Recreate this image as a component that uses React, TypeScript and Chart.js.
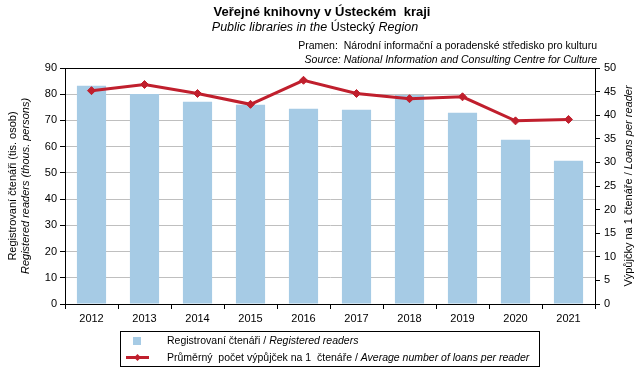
import React, { useEffect, useRef } from "react";
import { Chart, registerables } from "chart.js";

Chart.register(...registerables);

const years = ["2012", "2013", "2014", "2015", "2016", "2017", "2018", "2019", "2020", "2021"];
const readers = [83.2, 80.1, 77.1, 76.0, 74.5, 74.1, 79.7, 72.9, 62.6, 54.6];
const loans = [45.2, 46.5, 44.6, 42.3, 47.4, 44.6, 43.5, 43.9, 38.8, 39.1];
const leftTicks = { min: 0, max: 90, step: 10 };
const rightTicks = { min: 0, max: 50, step: 5 };

const FONT = "'Liberation Sans', Arial, sans-serif";
const BAR_COLOR = "#a6cbe5";
const LINE_COLOR = "#c01f2d";

function drawSegments(ctx: CanvasRenderingContext2D, segs: [string, string][], x: number, y: number, align: "left" | "center" | "right") {
  let total = 0;
  for (const [font, text] of segs) {
    ctx.font = font;
    total += ctx.measureText(text).width;
  }
  let sx = align === "left" ? x : align === "center" ? x - total / 2 : x - total;
  ctx.textAlign = "left";
  for (const [font, text] of segs) {
    ctx.font = font;
    ctx.fillText(text, sx, y);
    sx += ctx.measureText(text).width;
  }
}

const decor = {
  id: "decor",
  afterDraw(chart: any) {
    const ctx: CanvasRenderingContext2D = chart.ctx;
    const a = chart.chartArea;
    ctx.save();
    // plot border
    ctx.strokeStyle = "#000";
    ctx.lineWidth = 1;
    ctx.strokeRect(Math.round(a.left) + 0.5, Math.round(a.top) + 0.5, Math.round(a.right - a.left), Math.round(a.bottom - a.top));

    ctx.fillStyle = "#000";
    ctx.textBaseline = "middle";
    // titles
    ctx.textAlign = "center";
    ctx.font = `bold 13px ${FONT}`;
    ctx.fillText("Veřejné knihovny v Ústeckém  kraji", 322, 12);
    drawSegments(ctx, [[`italic 12.5px ${FONT}`, "Public libraries in the "], [`12.5px ${FONT}`, "Ústecký "], [`italic 12.5px ${FONT}`, "Region"]], 315, 28, "center");
    // source
    ctx.textAlign = "right";
    ctx.font = `10.5px ${FONT}`;
    ctx.fillText("Pramen:  Národní informační a poradenské středisko pro kulturu", 597, 46);
    ctx.font = `italic 10.5px ${FONT}`;
    ctx.fillText("Source: National Information and Consulting Centre for Culture", 597, 60);

    // left axis title
    const cy = (a.top + a.bottom) / 2;
    ctx.save();
    ctx.translate(13, cy);
    ctx.rotate(-Math.PI / 2);
    ctx.textAlign = "center";
    ctx.font = `11px ${FONT}`;
    ctx.fillText("Registrovaní čtenáři (tis. osob)", 0, 0);
    ctx.font = `italic 11px ${FONT}`;
    ctx.fillText("Registered readers (thous. persons)", 0, 13);
    ctx.restore();

    // right axis title
    ctx.save();
    ctx.translate(629, cy);
    ctx.rotate(-Math.PI / 2);
    drawSegments(ctx, [[`11px ${FONT}`, "Výpůjčky na 1 čtenáře / "], [`italic 11px ${FONT}`, "Loans per reader"]], 0, 0, "center");
    ctx.restore();

    // legend box
    ctx.strokeStyle = "#000";
    ctx.lineWidth = 1;
    ctx.strokeRect(120.5, 331.5, 419, 35);
    ctx.fillStyle = BAR_COLOR;
    ctx.fillRect(133, 337, 8, 8);
    ctx.strokeStyle = LINE_COLOR;
    ctx.lineWidth = 3;
    ctx.beginPath();
    ctx.moveTo(126, 357.5);
    ctx.lineTo(149, 357.5);
    ctx.stroke();
    ctx.fillStyle = LINE_COLOR;
    ctx.beginPath();
    ctx.moveTo(137.5, 354);
    ctx.lineTo(141, 357.5);
    ctx.lineTo(137.5, 361);
    ctx.lineTo(134, 357.5);
    ctx.closePath();
    ctx.fill();
    ctx.fillStyle = "#000";
    drawSegments(ctx, [[`10.5px ${FONT}`, "Registrovaní čtenáři / "], [`italic 10.5px ${FONT}`, "Registered readers"]], 167, 341, "left");
    drawSegments(ctx, [[`10.5px ${FONT}`, "Průměrný  počet výpůjček na 1  čtenáře / "], [`italic 10.5px ${FONT}`, "Average number of loans per reader"]], 167, 358, "left");
    ctx.restore();
  },
};

export default function App() {
  const ref = useRef<HTMLCanvasElement>(null);
  useEffect(() => {
    if (!ref.current) return;
    const tickFont = { family: FONT, size: 11 };
    const chart = new Chart(ref.current, {
      type: "bar",
      data: {
        labels: years,
        datasets: [
          {
            type: "line",
            label: "Průměrný počet výpůjček na 1 čtenáře / Average number of loans per reader",
            data: loans,
            yAxisID: "y1",
            borderColor: LINE_COLOR,
            backgroundColor: LINE_COLOR,
            borderWidth: 3,
            pointStyle: "rectRot",
            pointRadius: 4,
            pointBorderWidth: 1,
            order: 0,
            tension: 0,
          } as any,
          {
            type: "bar",
            label: "Registrovaní čtenáři / Registered readers",
            data: readers,
            yAxisID: "y",
            backgroundColor: BAR_COLOR,
            barPercentage: 0.55,
            categoryPercentage: 1,
            order: 1,
          },
        ],
      },
      options: {
        responsive: false,
        animation: false,
        devicePixelRatio: 1,
        layout: { padding: { top: 68, left: 0, right: 0, bottom: 0 } },
        plugins: { legend: { display: false }, tooltip: { enabled: false }, title: { display: false } },
        scales: {
          x: {
            offset: true,
            grid: { drawOnChartArea: false, drawTicks: true, tickLength: 5, tickColor: "#000", offset: true },
            border: { color: "#000" },
            ticks: { color: "#000", font: tickFont, padding: 3, maxRotation: 0 },
            afterFit: (s: any) => { s.height = 76; },
          },
          y: {
            position: "left",
            min: leftTicks.min,
            max: leftTicks.max,
            grid: { color: "#bfbfbf", tickColor: "#000", tickLength: 5 },
            border: { color: "#000" },
            ticks: { stepSize: leftTicks.step, color: "#000", font: tickFont, padding: 3 },
            afterFit: (s: any) => { s.width = 65; },
          },
          y1: {
            position: "right",
            min: rightTicks.min,
            max: rightTicks.max,
            grid: { drawOnChartArea: false, tickColor: "#000", tickLength: 5 },
            border: { color: "#000" },
            ticks: { stepSize: rightTicks.step, color: "#000", font: tickFont, padding: 4 },
            afterFit: (s: any) => { s.width = 46; },
          },
        },
      },
      plugins: [decor],
    });
    return () => chart.destroy();
  }, []);
  return (
    <div style={{ position: "absolute", left: 0, top: 0, width: 641, height: 380, background: "#fff" }}>
      <canvas ref={ref} width={641} height={380} style={{ width: 641, height: 380 }} />
    </div>
  );
}
